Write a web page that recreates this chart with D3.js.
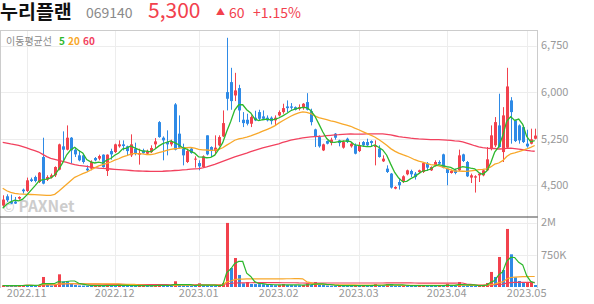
<!DOCTYPE html>
<html>
<head>
<meta charset="utf-8">
<script src="https://cdn.jsdelivr.net/npm/d3@7"></script>
<style>
  body { margin: 0; background: #fff; }
  svg text { font-family: "Noto Sans CJK KR", "Noto Sans", sans-serif; }
</style>
</head>
<body>
<div id="chart"></div>
<script>
// ---- data (KRW, shares) ----
const opens = [4174,4323,4238,4238,4286,4431,4409,4596,4633,4553,4955,4591,4624,4661,4752,5127,5073,5266,5073,4982,
  4982,4768,4768,4939,4929,4993,4730,5051,5035,5127,5159,5127,4982,5089,4993,5062,5009,5035,5159,5517,
  5266,5196,5159,5802,5331,5090,4875,5090,4913,4858,4794,5304,5116,5051,5143,5287,6000,6161,5946,6064,
  5555,5555,5491,5588,5678,5609,5588,5588,5545,5625,5678,5769,5769,5758,5733,5758,5839,5694,5400,5276,
  5062,5212,5180,5331,5223,5106,5250,5127,5143,5051,5196,5196,5212,5116,5090,4886,4768,4688,4447,4553,
  4553,4677,4730,4688,4714,4714,4849,4741,4821,4875,4998,4768,4698,4741,4741,4998,4875,4624,4624,4661,
  4661,4741,5090,5143,5464,5035,5106,5866,5545,5464,5437,5170,5170,5250];
const highs = [4339,4355,4350,4312,4323,4447,4624,4624,4655,4714,5266,4661,4688,4805,5170,5368,5464,5276,5106,5062,
  5009,4821,4902,4955,4993,4998,4998,5089,5170,5223,5223,5138,5320,5186,5089,5089,5073,5143,5260,5533,
  5287,5384,5234,5823,5625,5170,5090,5106,4966,4902,4982,5304,5127,5304,5304,5705,6874,6391,6310,6118,
  5678,5652,5625,5700,5716,5705,5625,5609,5625,5705,5813,5866,5823,5769,5802,5823,5983,5733,5411,5304,
  5170,5223,5266,5341,5234,5223,5266,5196,5175,5196,5212,5250,5223,5223,5143,4982,4821,4698,4484,4608,
  4661,4752,4752,4714,4752,4875,4875,4805,4902,4902,5009,4784,4752,4768,5074,5009,4891,4688,4661,4698,
  4752,5116,5464,5598,5974,5758,6391,5919,5555,5480,5464,5395,5411,5411];
const lows = [4152,4232,4195,4200,4270,4367,4393,4553,4548,4537,4516,4569,4608,4633,4741,4875,5062,4849,4955,4886,
  4849,4714,4741,4886,4902,4784,4650,4913,5019,5106,5062,4982,4955,4982,4833,5009,4998,5019,5089,5266,
  4902,4982,5127,5062,5090,4821,4858,5009,4784,4741,4784,4982,4955,4998,5127,5276,5705,5716,5855,5517,
  5437,5464,5437,5533,5545,5560,5528,5480,5464,5609,5652,5678,5716,5705,5705,5716,5705,5464,5116,5106,
  5051,5159,5143,5234,5127,5090,5180,5106,4998,5035,5116,5116,5116,4821,4945,4875,4698,4447,4436,4431,
  4537,4661,4633,4592,4688,4698,4730,4730,4805,4837,4773,4500,4688,4677,4730,4875,4633,4537,4383,4553,
  4645,4730,5062,5116,5106,4875,5090,5170,5196,5170,5180,5106,5159,5240];
const closes = [4270,4259,4206,4206,4312,4404,4580,4569,4569,4704,4527,4633,4661,4794,5159,5073,5266,5062,4998,4902,
  4875,4741,4875,4902,4971,4794,4993,4998,5159,5159,5132,5051,5159,5009,5019,5019,5051,5100,5207,5276,
  5223,5159,5207,5073,5106,4982,5051,5019,4929,4805,4966,4998,5051,5106,5276,5501,5893,5855,6027,5705,
  5501,5491,5598,5545,5571,5571,5545,5533,5588,5678,5742,5742,5748,5716,5758,5813,5716,5517,5287,5127,
  5159,5170,5234,5266,5180,5196,5196,5170,5009,5143,5143,5143,5180,5143,4955,4929,4714,4463,4473,4500,
  4645,4741,4677,4633,4741,4858,4784,4794,4875,4849,4784,4698,4730,4698,4982,4891,4645,4661,4645,4688,
  4741,4918,5304,5517,5116,5625,6091,5678,5212,5223,5196,5127,5240,5300];
// thousands of shares
const volumes = [35,33,31,30,32,46,44,35,33,46,233,46,35,46,295,133,133,93,46,35,
  33,31,30,32,35,33,38,36,34,40,35,33,31,30,32,35,33,30,31,63,
  35,33,32,133,46,35,33,31,30,86,35,33,31,30,32,93,1490,442,674,280,
  86,116,70,68,66,64,46,44,42,46,70,46,44,42,40,46,86,46,116,63,
  46,35,33,31,35,33,31,30,32,31,35,33,30,70,35,33,70,70,35,33,
  35,33,31,30,32,35,33,31,30,32,30,70,35,33,116,35,33,31,30,32,
  35,93,350,233,698,395,1350,760,225,140,93,95,97,46].map(v => v * 1000);

// moving-average lines where the window reaches before the first candle
const ma5Lead = [4130,4195,4232,4259];
const ma20Lead = [4452,4412,4388,4371,4363,4359,4355,4352,4349,4346,4343,4339,4339,4355,4404,4460,4516,4572,4629];
const ma60Lead = [5191,5180,5167,5156,5143,5122,5101,5080,5059,5035,4998,4961,4934,4918,4902,4886,4870,4849,4833,4821,
  4812,4804,4794,4786,4778,4773,4767,4762,4757,4752,4747,4743,4738,4733,4730,4728,4726,4725,4725,4725,
  4726,4730,4733,4738,4741,4747,4752,4759,4764,4768,4781,4797,4817,4837,4862,4886,4910,4934,4957];

const monthStarts = [6, 28, 49, 69, 89, 111, 131];
const monthLabels = ["2022.11", "2022.12", "2023.01", "2023.02", "2023.03", "2023.04", "2023.05"];
const priceTicks = [4500, 5250, 6000, 6750];
const volTicks = [1500000, 750000];
const volTickLabels = ["2M", "750K"];

const width = 594, height = 304;
const left = 0.7, right = 536.7;
const red = "#f2414d", blue = "#2e8ae6";
const maColors = {5: "#2db82d", 20: "#f8a82a", 60: "#f2415e"};

const svg = d3.select("#chart").append("svg")
    .attr("width", width)
    .attr("height", height)
    .attr("viewBox", [0, 0, width, height]);

const idx = d3.range(closes.length);
const x = d3.scaleBand().domain(idx).range([left, right]);
const cx = i => x(i) + x.bandwidth() / 2;
const y = d3.scaleLinear().domain([4500, 6750]).range([185.3, 45.5]);
const yv = d3.scaleLinear().domain([0, 1500000]).range([287, 222.5]);

// moving average; before a full window use the lead values (or a partial mean)
function movingAvg(values, n, lead) {
    return values.map((v, i) => {
        if (i < n - 1) return lead ? lead[i] : d3.mean(values.slice(0, i + 1));
        return d3.mean(values.slice(i - n + 1, i + 1));
    });
}

// header
const head = svg.append("g");
head.append("text").attr("x", 0).attr("y", 19).attr("font-size", 19.5).attr("font-weight", "bold")
    .attr("fill", "#111").text("누리플랜");
head.append("text").attr("x", 86).attr("y", 17.5).attr("font-size", 14).attr("fill", "#8a8a8a").text("069140");
head.append("text").attr("x", 148).attr("y", 18).attr("font-size", 21).attr("fill", red).text("5,300");
head.append("text").attr("x", 216).attr("y", 15).attr("font-size", 9).attr("fill", red).text("▲");
head.append("text").attr("x", 229).attr("y", 17.5).attr("font-size", 14).attr("fill", red).text("60");
head.append("text").attr("x", 253).attr("y", 17.5).attr("font-size", 14).attr("fill", red).text("+1.15%");

// grid
const grid = svg.append("g").attr("stroke", "#ededed").attr("stroke-width", 1);
grid.selectAll(".hp").data(priceTicks).join("line")
    .attr("x1", left).attr("x2", right)
    .attr("y1", d => Math.round(y(d)) + 0.5).attr("y2", d => Math.round(y(d)) + 0.5);
grid.selectAll(".hv").data(volTicks).join("line")
    .attr("x1", left).attr("x2", right)
    .attr("y1", d => Math.round(yv(d)) + 0.5).attr("y2", d => Math.round(yv(d)) + 0.5);
grid.selectAll(".vm").data(monthStarts).join("line")
    .attr("x1", d => Math.round(cx(d)) + 0.5).attr("x2", d => Math.round(cx(d)) + 0.5)
    .attr("y1", 30).attr("y2", 288);

// watermark
const wm = svg.append("g").attr("fill", "#cdcdcd");
wm.append("text").attr("x", 3).attr("y", 211.5).attr("font-size", 14).text("©");
wm.append("text").attr("x", 18.5).attr("y", 211.7).attr("font-size", 15.5).attr("font-weight", "bold")
    .attr("font-family", "'Noto Sans', sans-serif").text("PAXNet");

// legend
const lg = svg.append("g").attr("font-size", 10);
lg.append("text").attr("x", 6).attr("y", 44.5).attr("fill", "#8a8a8a").text("이동평균선");
lg.append("text").attr("x", 59).attr("y", 44.5).attr("font-weight", "bold").attr("fill", maColors[5]).text("5");
lg.append("text").attr("x", 68).attr("y", 44.5).attr("font-weight", "bold").attr("fill", maColors[20]).text("20");
lg.append("text").attr("x", 83).attr("y", 44.5).attr("font-weight", "bold").attr("fill", maColors[60]).text("60");

// volume bars: red when volume rose from the day before, blue otherwise
const bw = 3;
svg.append("g").selectAll("rect").data(idx).join("rect")
    .attr("x", i => Math.round(cx(i)) - 1)
    .attr("y", i => yv(volumes[i]))
    .attr("width", bw)
    .attr("height", i => yv(0) - yv(volumes[i]))
    .attr("fill", i => i === 0 || volumes[i] > volumes[i - 1] ? red : blue);

// volume moving averages
const vLine = d3.line().x((d, i) => cx(i)).y(d => yv(d));
[60, 20, 5].forEach(n => {
    svg.append("path").datum(movingAvg(volumes, n))
        .attr("fill", "none").attr("stroke", maColors[n]).attr("stroke-width", 1.2)
        .attr("d", vLine);
});

// candles
const candle = svg.append("g").selectAll("g").data(idx).join("g")
    .attr("fill", i => closes[i] >= opens[i] ? red : blue)
    .attr("stroke", i => closes[i] >= opens[i] ? red : blue);
candle.append("line")
    .attr("x1", i => Math.round(cx(i)) + 0.5).attr("x2", i => Math.round(cx(i)) + 0.5)
    .attr("y1", i => y(highs[i])).attr("y2", i => y(lows[i]));
candle.append("rect")
    .attr("stroke", "none")
    .attr("x", i => Math.round(cx(i)) - 1)
    .attr("width", bw)
    .attr("y", i => y(Math.max(opens[i], closes[i])))
    .attr("height", i => Math.max(1, Math.abs(y(opens[i]) - y(closes[i]))));

// price moving averages
const pLine = d3.line().x((d, i) => cx(i)).y(d => y(d));
[[60, ma60Lead], [20, ma20Lead], [5, ma5Lead]].forEach(([n, lead]) => {
    svg.append("path").datum(movingAvg(closes, n, lead))
        .attr("fill", "none").attr("stroke", maColors[n]).attr("stroke-width", 1.3)
        .attr("d", pLine);
});

// frame
const frame = svg.append("g");
frame.append("line").attr("x1", 0).attr("x2", right + 1).attr("y1", 30.5).attr("y2", 30.5).attr("stroke", "#cccccc");
frame.append("line").attr("x1", 0.5).attr("x2", 0.5).attr("y1", 30).attr("y2", 288).attr("stroke", "#cccccc");
frame.append("line").attr("x1", right + 0.8).attr("x2", right + 0.8).attr("y1", 30).attr("y2", 288).attr("stroke", "#cccccc");
frame.append("line").attr("x1", 0).attr("x2", right + 1).attr("y1", 217).attr("y2", 217).attr("stroke", "#444").attr("stroke-width", 1.2);

// right axes
const ax = svg.append("g").attr("font-size", 11).attr("fill", "#999");
ax.selectAll(".pt").data(priceTicks).join("text")
    .attr("x", 541).attr("y", d => y(d)).attr("dy", "0.35em")
    .text(d3.format(","));
ax.selectAll(".vt").data(volTicks).join("text")
    .attr("x", 541).attr("y", d => yv(d)).attr("dy", "0.35em")
    .text((d, i) => volTickLabels[i]);

// bottom axis
ax.selectAll(".mt").data(monthStarts).join("text")
    .attr("x", d => cx(d)).attr("y", 297).attr("text-anchor", "middle")
    .text((d, i) => monthLabels[i]);
</script>
</body>
</html>
